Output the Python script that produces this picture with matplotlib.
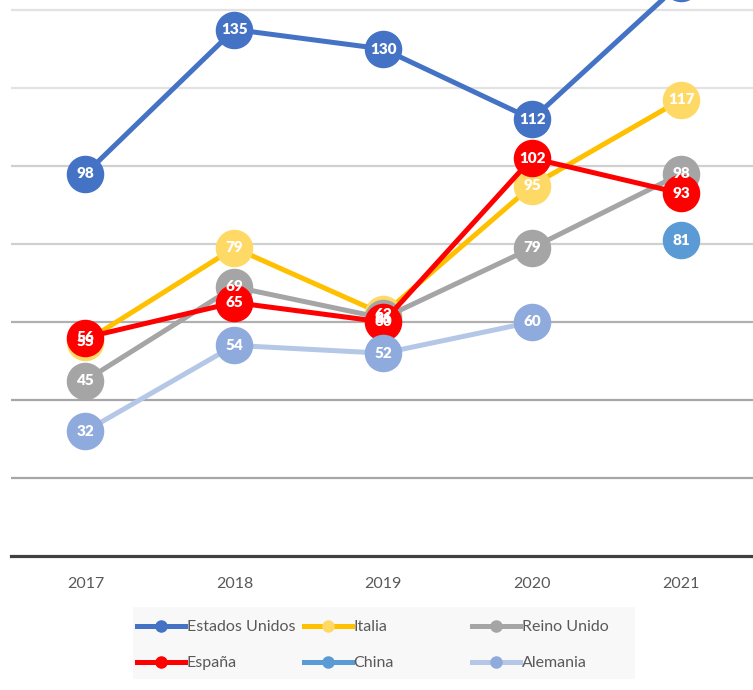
import matplotlib
matplotlib.use("Agg")
import matplotlib.pyplot as plt
from matplotlib.lines import Line2D
from matplotlib.patches import Rectangle

years = ["2017", "2018", "2019", "2020", "2021"]
estados_unidos = [98, 135, 130, 112, 147]
italia = [55, 79, 62, 95, 117]
reino_unido = [45, 69, 61, 79, 98]
espana = [56, 65, 60, 102, 93]
china = [None, None, None, None, 81]
alemania = [32, 54, 52, 60, None]

series = [
    ("Estados Unidos", estados_unidos, "#4472C4", "#4472C4"),
    ("Italia", italia, "#FFC000", "#FFD966"),
    ("Reino Unido", reino_unido, "#A5A5A5", "#A5A5A5"),
    ("España", espana, "#FF0000", "#FF0000"),
    ("China", china, "#5B9BD5", "#5B9BD5"),
    ("Alemania", alemania, "#B4C7E7", "#8FAADC"),
]

plt.rcParams['font.family'] = ['Lato', 'DejaVu Sans']

W, H = 753, 690
fig = plt.figure(figsize=(W / 100, H / 100), dpi=100)
ax = fig.add_axes([11 / W, (H - 556) / H, 1 - 11 / W, 556 / H])

x = list(range(len(years)))
ymax = 556 / 3.9
ax.set_xlim(-0.5, (W - 85) / 149)
ax.set_ylim(0, ymax)

grid_colors = {20: "#A6A6A6", 40: "#A6A6A6", 60: "#B0B0B0", 80: "#D0D0D0",
               100: "#D0D0D0", 120: "#E2E2E2", 140: "#E2E2E2"}
for v, c in grid_colors.items():
    ax.axhline(v, color=c, lw=1.6, zorder=0)

handles = {}
for i, (name, vals, lc, mc) in enumerate(series):
    xs = [xi for xi, v in zip(x, vals) if v is not None]
    ys = [v for v in vals if v is not None]
    ax.plot(xs, ys, color=lc, lw=3.6, solid_capstyle="round", zorder=2 + i)
    ax.plot(xs, ys, ls="none", marker="o", ms=26, mfc=mc, mec=mc, zorder=2 + i)
    handles[name] = Line2D([0], [0], color=lc, lw=3.6, marker="o", ms=8,
                           mfc=mc, mec=mc)
for name, vals, lc, mc in series:
    for xi, v in zip(x, vals):
        if v is None or v > ymax:
            continue  # label lies outside the visible plot area
        ax.text(xi, v, str(v), color="white", fontsize=11, fontweight="heavy",
                ha="center", va="center", zorder=20, clip_on=True)

for s in ["left", "right", "top"]:
    ax.spines[s].set_visible(False)
ax.spines["bottom"].set_color("#404040")
ax.spines["bottom"].set_linewidth(2.3)
ax.set_yticks([])
ax.set_xticks(x)
ax.set_xticklabels(years, color="#595959", fontsize=11.5)
ax.tick_params(axis="x", length=0, pad=15)

# legend background
fig.add_artist(Rectangle((133 / W, 1 - 679 / H), (635 - 133) / W, (679 - 607) / H,
                         transform=fig.transFigure, facecolor="#F8F8F8",
                         edgecolor="none", zorder=0))
cols = [(137, ["Estados Unidos", "España"]),
        (304, ["Italia", "China"]),
        (472, ["Reino Unido", "Alemania"])]
for xpx, names in cols:
    leg = fig.legend([handles[n] for n in names], names, loc="upper left",
                     bbox_to_anchor=(xpx / W, 1 - 620 / H), frameon=False,
                     fontsize=11.5, handlelength=3.0, handletextpad=0.1,
                     labelspacing=1.38, borderpad=0, borderaxespad=0)
    for t in leg.get_texts():
        t.set_color("#595959")

fig.savefig("out.png", dpi=100, facecolor="white")
